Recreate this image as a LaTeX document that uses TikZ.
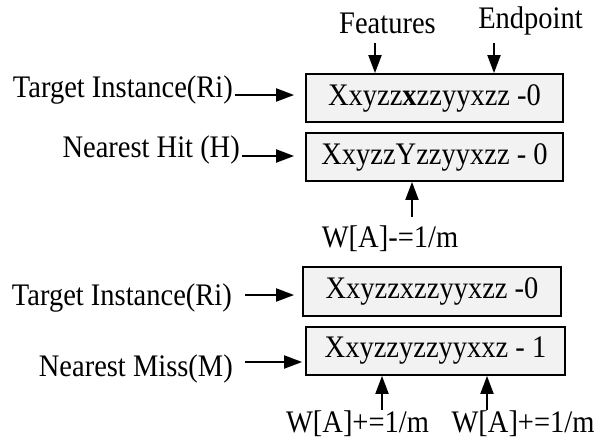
\documentclass[tikz,border=0pt]{standalone}
\usepackage{graphicx}
\usepackage{fontspec}
\setmainfont{Liberation Serif}
\usetikzlibrary{arrows.meta}

\newcommand{\tall}[1]{\scalebox{1}[1.1]{#1}}

\tikzset{
  rec/.style = {draw, line width=1.8pt, fill=gray!10, minimum width=257pt, minimum height=48pt, inner sep=0pt},
  lab/.style = {inner sep=0pt},
  arr/.style = {line width=2pt, -{Triangle[length=18pt,width=13pt]}}
}

\begin{document}
\begin{tikzpicture}[x=1pt,y=-1pt,font=\fontsize{28.5}{32}\selectfont]
    \useasboundingbox (0,0) rectangle (597,447);

    % upper pair
    \node[rec] (R1) at (434.5,98) {\tall{Xxyzz\textbf{x}zzyyxzz -0}};
    \node[rec] (H) at (434.5,157) {\tall{XxyzzYzzyyxzz - 0}};
    \node[lab, anchor=base east] (tR1) at (233,97) {\tall{Target Instance(Ri)}};
    \node[lab, anchor=base east] (tH) at (240,157) {\tall{Nearest Hit (H)}};
    \node[lab, anchor=base] (feat) at (387.5,33) {\tall{Features}};
    \node[lab, anchor=base] (endp) at (530.5,28) {\tall{Endpoint}};
    \node[lab, anchor=base] (dec) at (390,247) {\tall{W[A]-=1/m}};
    \coordinate (f1) at (375,43);
    \coordinate (e1) at (494,43);
    \coordinate (d1) at (412,217);

    % lower pair
    \node[rec, minimum width=258pt, minimum height=49pt] (R2) at (432,291.5) {\tall{Xxyzzxzzyyxzz -0}};
    \node[rec, minimum width=259pt] (M) at (435.5,351) {\tall{Xxyzzyzzyyxxz - 1}};
    \node[lab, anchor=base east] (tR2) at (232,305) {\tall{Target Instance(Ri)}};
    \node[lab, anchor=base east] (tM) at (233,376) {\tall{Nearest Miss(M)}};
    \node[lab, anchor=base] (inc1) at (357.5,432) {\tall{W[A]+=1/m}};
    \node[lab, anchor=base] (inc2) at (523,432) {\tall{W[A]+=1/m}};
    \coordinate (i1) at (382,410);
    \coordinate (i2) at (487,410);

    \draw[arr, shorten <=2pt, shorten >=11pt] ([yshift=2pt]tR1.base east) -- ([yshift=2pt]tR1.base east -| R1.west);
    \draw[arr, shorten <=2pt, shorten >=11pt] ([yshift=1pt]tH.base east) -- ([yshift=1pt]tH.base east -| H.west);
    \draw[arr] (f1) -- (f1 |- R1.north);
    \draw[arr] (e1) -- (e1 |- R1.north);
    \draw[arr] (d1) -- (d1 |- H.south);

    \draw[arr, shorten <=13pt, shorten >=8pt] ([yshift=10pt]tR2.base east) -- ([yshift=10pt]tR2.base east -| R2.west);
    \draw[arr, shorten <=12pt, shorten >=3pt] ([yshift=14pt]tM.base east) -- ([yshift=14pt]tM.base east -| M.west);
    \draw[arr] (i1) -- (i1 |- M.south);
    \draw[arr] (i2) -- (i2 |- M.south);
\end{tikzpicture}
\end{document}
